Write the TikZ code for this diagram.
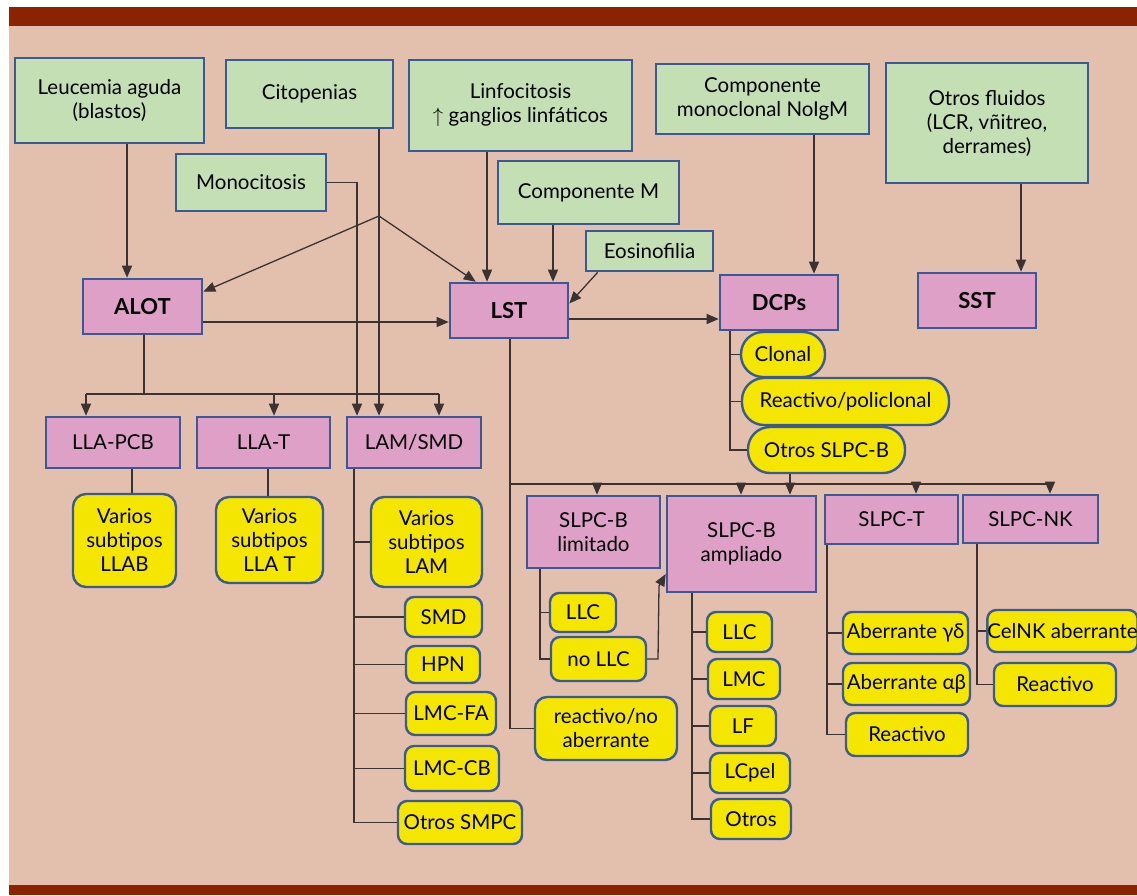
\documentclass[tikz,border=0pt]{standalone}
\usepackage{fontspec}
\setmainfont{Lato}
\usepackage{tikz}
\usetikzlibrary{arrows.meta}

\definecolor{fondo}{HTML}{E2C0AD}
\definecolor{barra}{HTML}{8B2200}
\definecolor{verde}{HTML}{C5DFB5}
\definecolor{rosa}{HTML}{DFA0C8}
\definecolor{amarillo}{HTML}{F5E600}
\definecolor{borde}{HTML}{3A5A96}
\definecolor{linea}{HTML}{3C3232}

\begin{document}
\begin{tikzpicture}[x=1pt, y=-1pt,
    every node/.style={font=\fontsize{20.5}{24}\selectfont, align=center, inner sep=0pt},
    gbox/.style={draw=borde, line width=2.6pt, fill=verde},
    pbox/.style={draw=borde, line width=2.6pt, fill=rosa},
    tbox/.style={pbox, font=\fontsize{22}{24}\selectfont\bfseries},
    ybox/.style={draw=borde, line width=2.4pt, fill=amarillo, rounded corners=9pt},
    pill/.style={ybox, rounded corners=22pt},
    lin/.style={draw=linea, line width=1.3pt},
    arr/.style={lin, -{Triangle[length=12pt,width=10pt]}}]
    \useasboundingbox (0,0) rectangle (1137,895);
    \fill[fondo] (9,26) rectangle (1137,885);
    \fill[barra] (9,7) rectangle (1137,26);
    \fill[barra] (9,885) rectangle (1137,895);

    % origen
    \node[gbox, minimum width=189pt, minimum height=85pt] (leu) at (109.5,100.5) {Leucemia aguda\\(blastos)};
    \node[gbox, minimum width=167pt, minimum height=68pt] (cito) at (309.5,94) {Citopenias};
    \node[gbox, minimum width=150pt, minimum height=57pt] (mono) at (251,182.5) {Monocitosis};
    \node[gbox, minimum width=223pt, minimum height=91pt] (linf) at (520.5,105.5) {Linfocitosis\\$\uparrow$ ganglios linfáticos};
    \node[gbox, minimum width=181pt, minimum height=63pt] (compm) at (588.5,192.5) {Componente M};
    \node[gbox, minimum width=127pt, minimum height=40pt] (eos) at (649.5,251) {Eosinofilia};
    \node[gbox, minimum width=213pt, minimum height=70pt] (noigm) at (762.5,99) {Componente\\monoclonal NoIgM};
    \node[gbox, minimum width=202pt, minimum height=120pt] (fluid) at (987,123) {Otros fluidos\\(LCR, vñitreo,\\derrames)};

    % tubos
    \node[tbox, minimum width=119pt, minimum height=55pt] (alot) at (142.5,306.5) {ALOT};
    \node[tbox, minimum width=118pt, minimum height=55pt] (lst) at (509,310.5) {LST};
    \node[tbox, minimum width=118pt, minimum height=55pt] (dcps) at (779,302.5) {DCPs};
    \node[tbox, minimum width=118pt, minimum height=55pt] (sst) at (977,300.5) {SST};

    \node[pbox, minimum width=134pt, minimum height=51pt] (llapcb) at (113,442.5) {LLA-PCB};
    \node[pbox, minimum width=133pt, minimum height=51pt] (llat) at (263.5,442.5) {LLA-T};
    \node[pbox, minimum width=134pt, minimum height=51pt] (lamsmd) at (414,442.5) {LAM/SMD};
    \node[pbox, minimum width=133pt, minimum height=72pt] (lim) at (593.5,532) {SLPC-B\\limitado};
    \node[pbox, minimum width=149pt, minimum height=96pt] (amp) at (741.5,544) {SLPC-B\\ampliado};
    \node[pbox, minimum width=133pt, minimum height=49pt] (slpct) at (891.5,519.5) {SLPC-T};
    \node[pbox, minimum width=135pt, minimum height=48pt] (slpcnk) at (1030.5,519) {SLPC-NK};

    % DCPs
    \node[pill, minimum width=84pt, minimum height=45pt] (clonal) at (783,354.5) {Clonal};
    \node[pill, minimum width=207pt, minimum height=47pt] (reapol) at (845.5,401.5) {Reactivo/policlonal};
    \node[pill, minimum width=157pt, minimum height=46pt] (otrosb) at (826.5,450) {Otros SLPC-B};

    % ALOT
    \node[ybox, rounded corners=13pt, minimum width=103pt, minimum height=93pt] (vllab) at (124.5,540.5) {Varios\\subtipos\\LLAB};
    \node[ybox, rounded corners=13pt, minimum width=107pt, minimum height=86pt] (vllat) at (269.5,540) {Varios\\subtipos\\LLA T};
    \node[ybox, rounded corners=13pt, minimum width=111pt, minimum height=90pt] (vlam) at (426.5,542) {Varios\\subtipos\\LAM};
    \node[ybox, minimum width=77pt, minimum height=40pt] (smd) at (443.5,617) {SMD};
    \node[ybox, minimum width=74pt, minimum height=37pt] (hpn) at (443,664.5) {HPN};
    \node[ybox, minimum width=90pt, minimum height=43pt] (lmcfa) at (451,713.5) {LMC-FA};
    \node[ybox, minimum width=94pt, minimum height=45pt] (lmccb) at (452,768.5) {LMC-CB};
    \node[ybox, minimum width=124pt, minimum height=43pt] (otrsmpc) at (460,822.5) {Otros SMPC};

    % LST
    \node[ybox, minimum width=66pt, minimum height=39pt] (llc1) at (583,612.5) {LLC};
    \node[ybox, minimum width=95pt, minimum height=44pt] (nollc) at (598.5,659) {no LLC};
    \node[ybox, rounded corners=12pt, minimum width=142pt, minimum height=63pt] (reano) at (606,728.5) {reactivo/no\\aberrante};
    \node[ybox, minimum width=65pt, minimum height=40pt] (llc2) at (739.5,632) {LLC};
    \node[ybox, minimum width=72pt, minimum height=40pt] (lmc) at (744,679) {LMC};
    \node[ybox, minimum width=66pt, minimum height=40pt] (lf) at (743,726) {LF};
    \node[ybox, minimum width=80pt, minimum height=40pt] (lcpel) at (750,773) {LCpel};
    \node[ybox, minimum width=80pt, minimum height=40pt] (otros) at (751,819) {Otros};
    \node[ybox, minimum width=125pt, minimum height=42pt] (abgd) at (905.5,633) {Aberrante γδ};
    \node[ybox, minimum width=127pt, minimum height=42pt] (abab) at (906.5,684) {Aberrante αβ};
    \node[ybox, minimum width=122pt, minimum height=43pt] (reat) at (907,734.5) {Reactivo};
    \node[ybox, minimum width=147pt, minimum height=42pt] (celnk) at (1062.5,631) {CelNK aberrante};
    \node[ybox, minimum width=122pt, minimum height=43pt] (reank) at (1055,684.5) {Reactivo};

    % flechas de arriba
    \coordinate (split) at (379,216);
    \draw[arr] (leu.south -| 127,0) -- (alot.north -| 127,0);
    \draw[arr] (cito.south -| 379,0) -- (lamsmd.north -| 379,0);
    \draw[arr] (mono.east) -| (lamsmd.north -| 357,0);
    \draw[arr] (split) -- ([yshift=-14pt]alot.north east);
    \draw[arr] (split) -- ([xshift=27pt]lst.north west);
    \draw[arr] (linf.south -| 487,0) -- (lst.north -| 487,0);
    \draw[arr] (compm.south -| 553,0) -- (lst.north -| 553,0);
    \draw[arr] ([xshift=13pt]eos.south west) -- ([yshift=7pt]lst.east);
    \draw[arr] (noigm.south -| 814,0) -- (dcps.north -| 814,0);
    \draw[arr] (fluid.south -| 1021,0) -- (sst.north -| 1021,0);
    \draw[arr] (alot.east |- 0,322) -- (lst.west |- 0,322);
    \draw[arr] (lst.east |- 0,319) -- (dcps.west |- 0,319);

    % ALOT
    \draw[lin] (alot.south -| 144,0) -- (144,394);
    \draw[lin] (86,394) -- (439,394);
    \foreach \x/\n in {86/llapcb, 274/llat, 439/lamsmd}
        \draw[arr] (\x,394) -- (\n.north -| \x,0);
    \draw[lin] (llapcb.south -| 132,0) -- (vllab.north -| 132,0);
    \draw[lin] (llat.south -| 268,0) -- (vllat.north -| 268,0);
    \draw[lin] (lamsmd.south -| 354,0) |- (otrsmpc.west);
    \foreach \n in {vlam, smd, hpn, lmcfa, lmccb}
        \draw[lin] (\n.west) -- (\n.west -| 354,0);

    % DCPs
    \draw[lin] (dcps.south -| 730,0) |- (otrosb.west);
    \foreach \n in {clonal, reapol}
        \draw[lin] (\n.west) -- (\n.west -| 730,0);
    \draw[arr] (otrosb.south -| 790,0) -- (amp.north -| 790,0);

    % LST
    \draw[lin] (lst.south -| 510,0) |- (reano.west);
    \draw[lin] (510,484) -- (1050,484);
    \foreach \x/\n in {597/lim, 741/amp, 916/slpct, 1050/slpcnk}
        \draw[arr] (\x,484) -- (\n.north -| \x,0);
    \draw[lin] (lim.south -| 540,0) |- (nollc.west);
    \draw[lin] (llc1.west) -- (llc1.west -| 540,0);
    \draw[arr] (nollc.east) -- (658,659) -- (659,586) -- (amp.west |- 0,574);
    \draw[lin] (amp.south -| 692,0) |- (otros.west);
    \foreach \n in {llc2, lmc, lf, lcpel}
        \draw[lin] (\n.west) -- (\n.west -| 692,0);
    \draw[lin] (slpct.south -| 827,0) |- (reat.west);
    \foreach \n in {abgd, abab}
        \draw[lin] (\n.west) -- (\n.west -| 827,0);
    \draw[lin] (slpcnk.south -| 977,0) |- (reank.west);
    \draw[lin] (celnk.west) -- (celnk.west -| 977,0);
\end{tikzpicture}
\end{document}
